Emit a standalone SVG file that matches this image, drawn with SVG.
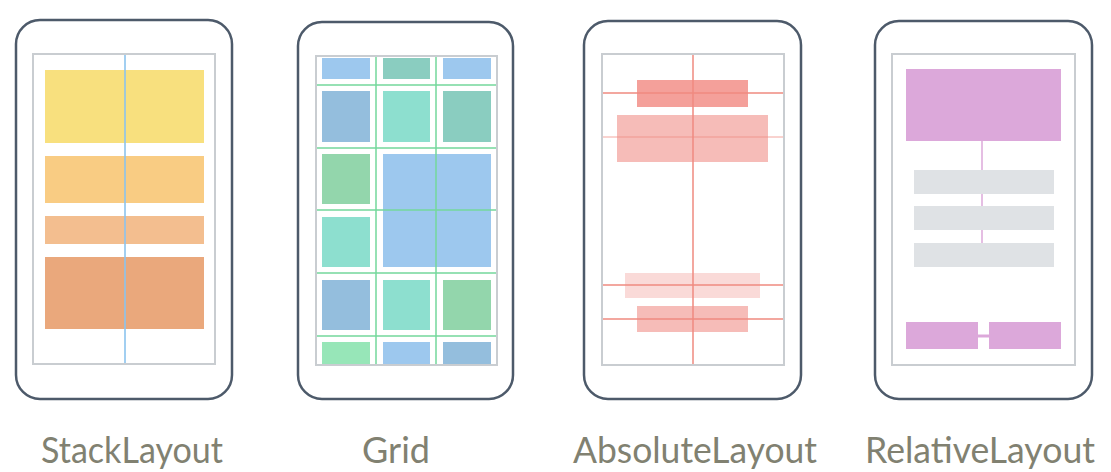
<svg xmlns="http://www.w3.org/2000/svg" width="1111" height="472" viewBox="0 0 1111 472">
<style>
.phone{fill:#fff;stroke:#4d5a6a;stroke-width:2.5}
.screen{fill:#fff;stroke:#c9cdd1;stroke-width:2}
.lbl{font-family:Lato,"Open Sans","DejaVu Sans",sans-serif;font-size:36px;fill:#818171}
.gl{stroke:#74d89c;stroke-width:2;opacity:0.75}
.rl{stroke:#f08a80;opacity:0.75}
</style>
<rect width="1111" height="472" fill="#fff"/>
<g id="stack">
<rect class="phone" x="16" y="20" width="216" height="379" rx="24"/>
<rect class="screen" x="33" y="54" width="182" height="310"/>
<rect x="45" y="70" width="159" height="73" fill="#f8e07e"/>
<rect x="45" y="156" width="159" height="47" fill="#f9cc83"/>
<rect x="45" y="216" width="159" height="28" fill="#f3be8f"/>
<rect x="45" y="257" width="159" height="72" fill="#eaa87c"/>
<line x1="125" y1="55" x2="125" y2="363" stroke="#8cc4ee" stroke-width="2" opacity="0.8"/>
</g>
<g id="grid">
<rect class="phone" x="298" y="22" width="215" height="377" rx="24"/>
<rect class="screen" x="316" y="56" width="181" height="309"/>
<rect x="322" y="58" width="48" height="21" fill="#9dc8ee"/>
<rect x="383" y="58" width="47" height="21" fill="#8acdc0"/>
<rect x="443" y="58" width="48" height="21" fill="#9dc8ee"/>
<rect x="322" y="91" width="48" height="51" fill="#94bedd"/>
<rect x="383" y="91" width="47" height="51" fill="#8ddfcf"/>
<rect x="443" y="91" width="48" height="51" fill="#8acdc0"/>
<rect x="322" y="154" width="48" height="50" fill="#93d6ac"/>
<rect x="383" y="154" width="108" height="113" fill="#9dc8ee"/>
<rect x="322" y="217" width="48" height="50" fill="#8ddfcf"/>
<rect x="322" y="280" width="48" height="50" fill="#94bedd"/>
<rect x="383" y="280" width="47" height="50" fill="#8ddfcf"/>
<rect x="443" y="280" width="48" height="50" fill="#93d6ac"/>
<rect x="322" y="342" width="48" height="22" fill="#97e6b8"/>
<rect x="383" y="342" width="47" height="22" fill="#9dc8ee"/>
<rect x="443" y="342" width="48" height="22" fill="#94bedd"/>
<line class="gl" x1="376" y1="57" x2="376" y2="364"/>
<line class="gl" x1="436" y1="57" x2="436" y2="364"/>
<line class="gl" x1="317" y1="85" x2="496" y2="85"/>
<line class="gl" x1="317" y1="148" x2="496" y2="148"/>
<line class="gl" x1="317" y1="210" x2="496" y2="210"/>
<line class="gl" x1="317" y1="273" x2="496" y2="273"/>
<line class="gl" x1="317" y1="336" x2="496" y2="336"/>
</g>
<g id="absolute">
<rect class="phone" x="584" y="21" width="217" height="378" rx="24"/>
<rect class="screen" x="602" y="54" width="182" height="311"/>
<rect x="637" y="80" width="111" height="27" fill="#f4a09a"/>
<rect x="617" y="115" width="151" height="47" fill="#f6bcb8"/>
<rect x="625" y="273" width="135" height="25" fill="#fadad8"/>
<rect x="637" y="306" width="111" height="26" fill="#f6bcb8"/>
<line class="rl" x1="693" y1="55" x2="693" y2="364" stroke-width="2"/>
<line class="rl" x1="603" y1="93" x2="783" y2="93" stroke-width="2"/>
<line class="rl" x1="603" y1="137" x2="783" y2="137" stroke-width="1"/>
<line class="rl" x1="603" y1="285" x2="783" y2="285" stroke-width="2"/>
<line class="rl" x1="603" y1="319" x2="783" y2="319" stroke-width="2"/>
</g>
<g id="relative">
<rect class="phone" x="875" y="21" width="217" height="378" rx="24"/>
<rect class="screen" x="892" y="54" width="183" height="311"/>
<line x1="982" y1="141" x2="982" y2="243" stroke="#dca8da" stroke-width="1.5"/>
<rect x="906" y="69" width="155" height="72" fill="#dca8da"/>
<rect x="914" y="170" width="140" height="24" fill="#dfe2e5"/>
<rect x="914" y="206" width="140" height="24" fill="#dfe2e5"/>
<rect x="914" y="243" width="140" height="24" fill="#dfe2e5"/>
<line x1="978" y1="336" x2="989" y2="336" stroke="#dca8da" stroke-width="3"/>
<rect x="906" y="322" width="72" height="27" fill="#dca8da"/>
<rect x="989" y="322" width="72" height="27" fill="#dca8da"/>
</g>
<g id="labels">
<text class="lbl" x="41" y="463" textLength="182" lengthAdjust="spacingAndGlyphs">StackLayout</text>
<text class="lbl" x="362" y="463" textLength="68" lengthAdjust="spacingAndGlyphs">Grid</text>
<text class="lbl" x="573" y="463" textLength="244" lengthAdjust="spacingAndGlyphs">AbsoluteLayout</text>
<text class="lbl" x="865" y="463" textLength="230" lengthAdjust="spacingAndGlyphs">RelativeLayout</text>
</g>
</svg>
